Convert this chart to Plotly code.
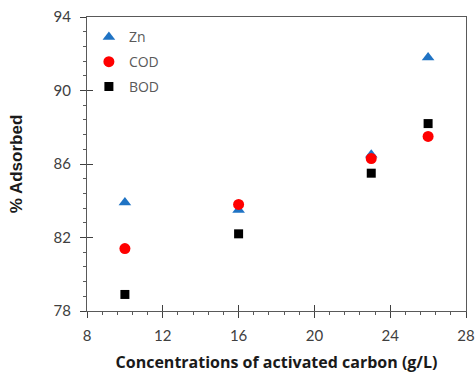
import plotly.graph_objects as go

conc = [10, 16, 23, 26]
zn = [83.9, 83.5, 86.5, 91.8]
cod = [81.4, 83.8, 86.3, 87.5]
bod = [78.9, 82.2, 85.5, 88.2]

x_ticks = [8, 12, 16, 20, 24, 28]
y_ticks = [78, 82, 86, 90, 94]

fig = go.Figure()
fig.add_trace(go.Scatter(x=conc, y=zn, mode="markers", name="Zn", legendgroup="a",
                         marker=dict(symbol="triangle-up", size=11, color="#1F73C4")))
fig.add_trace(go.Scatter(x=conc, y=cod, mode="markers", name="COD", legendgroup="b",
                         marker=dict(symbol="circle", size=11, color="#FF0000")))
fig.add_trace(go.Scatter(x=conc, y=bod, mode="markers", name="BOD", legendgroup="c",
                         marker=dict(symbol="square", size=9, color="#000000")))
# invisible trace to enable overlay axes for crossing ticks
fig.add_trace(go.Scatter(x=[8], y=[78], mode="markers", xaxis="x2", yaxis="y2",
                         marker=dict(opacity=0), showlegend=False, hoverinfo="skip"))

tickfont = dict(family="Lato, Open Sans, sans-serif", size=15, color="#404040")
fig.update_layout(
    width=476, height=381,
    margin=dict(l=87, r=10, t=17, b=70),
    paper_bgcolor="white", plot_bgcolor="white",
    showlegend=True,
    legend=dict(x=0.005, y=0.985, xanchor="left", yanchor="top",
                bgcolor="rgba(0,0,0,0)", tracegroupgap=3.5, traceorder="grouped",
                font=dict(family="Open Sans, sans-serif", size=14, color="#595959")),
    xaxis=dict(range=[8, 28], tickvals=x_ticks, ticktext=[str(v) for v in x_ticks],
               showgrid=False, zeroline=False, automargin=False,
               showline=True, linecolor="#595959", linewidth=1, mirror=True,
               ticks="outside", ticklen=6, tickcolor="#404040", tickwidth=1,
               minor=dict(dtick=0.8, tick0=8, ticks="outside", ticklen=3, tickcolor="#595959", showgrid=False),
               tickfont=tickfont, ticklabelstandoff=5,
               title=dict(text="<b>Concentrations of activated carbon (g/L)</b>", standoff=13,
                          font=dict(family="Open Sans, sans-serif", size=16, color="#1a1a1a"))),
    yaxis=dict(range=[78, 94], tickvals=y_ticks, ticktext=[str(v) for v in y_ticks],
               showgrid=False, zeroline=False, automargin=False,
               showline=True, linecolor="#595959", linewidth=1, mirror=True,
               ticks="outside", ticklen=6, tickcolor="#404040", tickwidth=1,
               minor=dict(dtick=0.8, tick0=78, ticks="outside", ticklen=3, tickcolor="#595959", showgrid=False),
               tickfont=tickfont, ticklabelstandoff=6,
               title=dict(text="<b>% Adsorbed</b>", standoff=26,
                          font=dict(family="Liberation Sans, Arial, sans-serif", size=17, color="#1a1a1a"))),
    xaxis2=dict(range=[8, 28], overlaying="x", tickvals=x_ticks, showticklabels=False,
                showgrid=False, zeroline=False, ticks="inside", ticklen=6, automargin=False,
                tickcolor="#404040", side="bottom", anchor="y2"),
    yaxis2=dict(range=[78, 94], overlaying="y", tickvals=y_ticks, showticklabels=False,
                showgrid=False, zeroline=False, ticks="inside", ticklen=6, automargin=False,
                tickcolor="#404040", side="left", anchor="x2"),
)

fig.write_html("out.html")
